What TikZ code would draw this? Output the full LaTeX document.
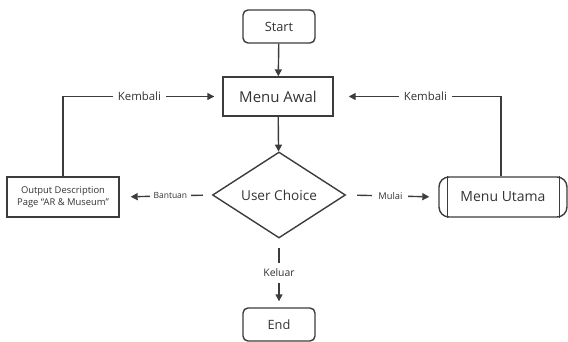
\documentclass[tikz,border=0pt]{standalone}
\usepackage{fontspec}
\setmainfont{Open Sans}
\usetikzlibrary{arrows.meta,shapes.geometric}
\definecolor{ln}{HTML}{3C3C3C}
\definecolor{tx}{HTML}{333333}
\newcommand{\fs}[1]{\fontsize{#1}{#1}\selectfont}
\begin{document}
\begin{tikzpicture}[x=1pt,y=-1pt,
  every node/.style={text=tx},
  conn/.style={draw=ln,line width=1.4pt,-{Triangle[length=7pt,width=7pt]}},
  plain/.style={draw=ln,line width=1.4pt},
  term/.style={draw=ln,line width=1.4pt,rounded corners=5pt,minimum width=72pt,minimum height=33pt,font=\fs{12.8}},
  proc/.style={draw=ln,line width=1.4pt,font=\fs{15}},
  dec/.style={draw=ln,line width=1.4pt,diamond,aspect=1.55,inner sep=0pt,minimum width=133pt,minimum height=86pt,font=\fs{13.6}},
  lbl/.style={fill=white,inner xsep=5pt,inner ysep=2pt,font=\fs{11.4}}
]
\useasboundingbox (0,0) rectangle (568,342);
\node[term] (start) at (279,26.5) {Start};
\node[proc,minimum width=110pt,minimum height=39pt] (ma) at (278,96.5) {Menu Awal};
\node[dec] (uc) at (279,195) {User Choice};
\node[draw=ln,line width=1.4pt,minimum width=112pt,minimum height=40pt,align=center,font=\fontsize{9.4}{11.5}\selectfont] (out) at (63,197) {Output Description\\Page ``AR \& Museum''};
\node[draw=ln,line width=1.4pt,rounded corners=10pt,minimum width=128pt,minimum height=40pt,font=\fs{14}] (mu) at (503,197) {Menu Utama};
\draw[plain] ([xshift=9pt]mu.north west) -- ([xshift=9pt]mu.south west);
\draw[plain] ([xshift=-8pt]mu.north east) -- ([xshift=-8pt]mu.south east);
\node[term] (end) at (279,324.5) {End};

\draw[conn] (start) -- (ma);
\draw[conn] (ma) -- (uc);
\draw[conn,shorten <=9pt,shorten >=11pt] (uc.west) -- node[lbl,pos=0.45,font=\fs{8.5},inner xsep=4pt]{Bantuan} (out.east);
\draw[conn,shorten <=11pt,shorten >=9pt] (uc.east) -- node[lbl,pos=0.48,font=\fs{9.3},inner xsep=6pt]{Mulai} (mu.west);
\draw[conn,shorten <=9pt,shorten >=6pt] (uc.south) -- node[lbl,font=\fs{10.4},inner ysep=6pt,inner xsep=2pt]{Keluar} (end.north);
\draw[conn,shorten >=8pt] (out.north) |- node[lbl,pos=0.74]{Kembali} (ma.west);
\draw[conn,shorten >=15pt] ([xshift=-2pt]mu.north) |- node[lbl,pos=0.726]{Kembali} (ma.east);
\end{tikzpicture}
\end{document}
